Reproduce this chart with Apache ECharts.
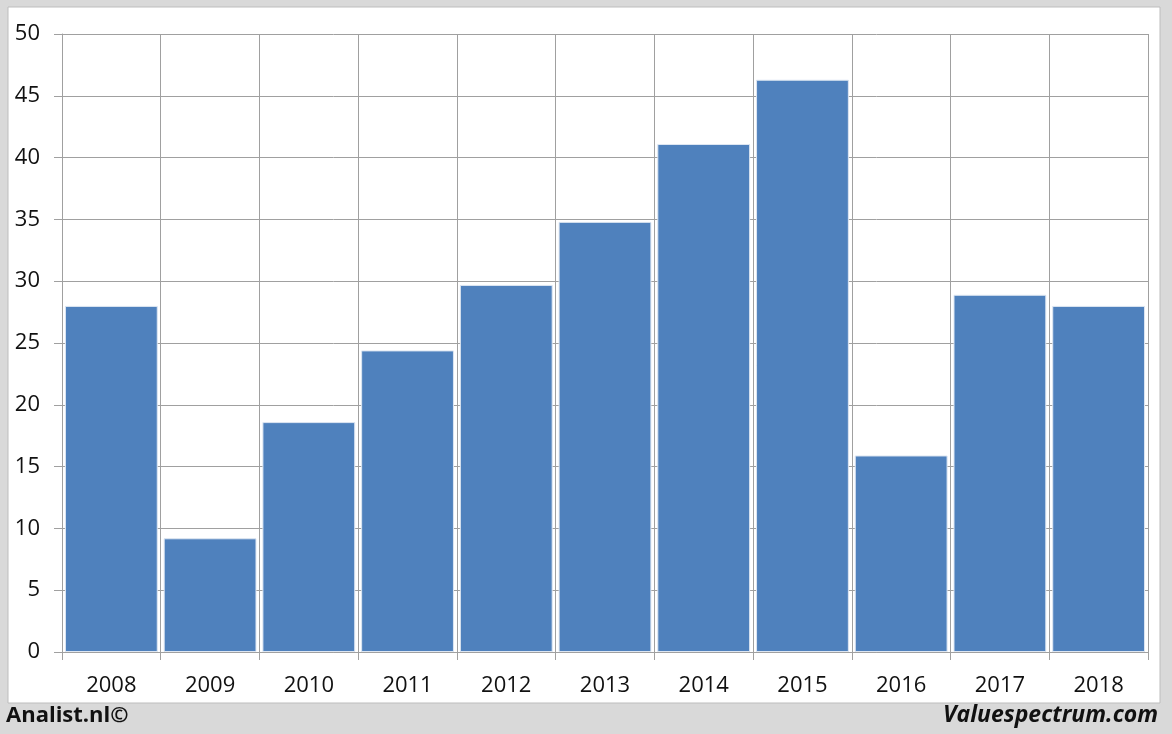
<!DOCTYPE html>
<html>
<head>
<meta charset="utf-8">
<script src="https://cdn.jsdelivr.net/npm/echarts@6/dist/echarts.min.js"></script>
<style>
html,body{margin:0;padding:0;background:#d9d9d9;}
#c{width:1172px;height:734px;}
</style>
</head>
<body>
<div id="c"></div>
<script>
var categories = ['2008','2009','2010','2011','2012','2013','2014','2015','2016','2017','2018'];
var values = [28.0, 9.2, 18.6, 24.4, 29.7, 34.8, 41.1, 46.3, 15.9, 28.9, 28.0];
var yTicks = {min: 0, max: 50, interval: 5};

var chart = echarts.init(document.getElementById('c'), null, {renderer: 'canvas'});
var font = '"Open Sans", "Liberation Sans", sans-serif';
chart.setOption({
  backgroundColor: '#d9d9d9',
  animation: false,
  graphic: [
    {type: 'rect', shape: {x: 8, y: 7, width: 1152, height: 696}, style: {fill: '#ffffff', stroke: '#bdbdbd', lineWidth: 1}, z: -10},
    {type: 'text', left: 6, top: 705, style: {text: 'Analist.nl©', font: 'bold 22px ' + font, fill: '#111'}},
    {type: 'text', right: 14, top: 704, style: {text: 'Valuespectrum.com', font: 'italic bold 23px ' + font, fill: '#111'}}
  ],
  grid: {left: 62, right: 24, top: 34, bottom: 82, containLabel: false},
  xAxis: {
    type: 'category',
    data: categories,
    boundaryGap: true,
    axisLine: {show: true, lineStyle: {color: '#a0a0a0', width: 1}},
    axisTick: {show: true, length: 8, lineStyle: {color: '#a0a0a0'}},
    splitLine: {show: true, lineStyle: {color: '#a0a0a0', width: 1}},
    axisLabel: {color: '#111', fontSize: 22, fontFamily: font, margin: 23}
  },
  yAxis: {
    type: 'value',
    min: yTicks.min, max: yTicks.max, interval: yTicks.interval,
    axisLine: {show: true, lineStyle: {color: '#a0a0a0', width: 1}},
    axisTick: {show: true, length: 8, lineStyle: {color: '#a0a0a0'}},
    splitLine: {show: true, lineStyle: {color: '#a0a0a0', width: 1}},
    axisLabel: {color: '#111', fontSize: 22, fontFamily: font, margin: 22}
  },
  series: [{
    type: 'bar',
    data: values,
    barCategoryGap: '6%',
    itemStyle: {color: '#4f81bd', borderColor: '#dde6f2', borderWidth: 1}
  }]
});
</script>
</body>
</html>
